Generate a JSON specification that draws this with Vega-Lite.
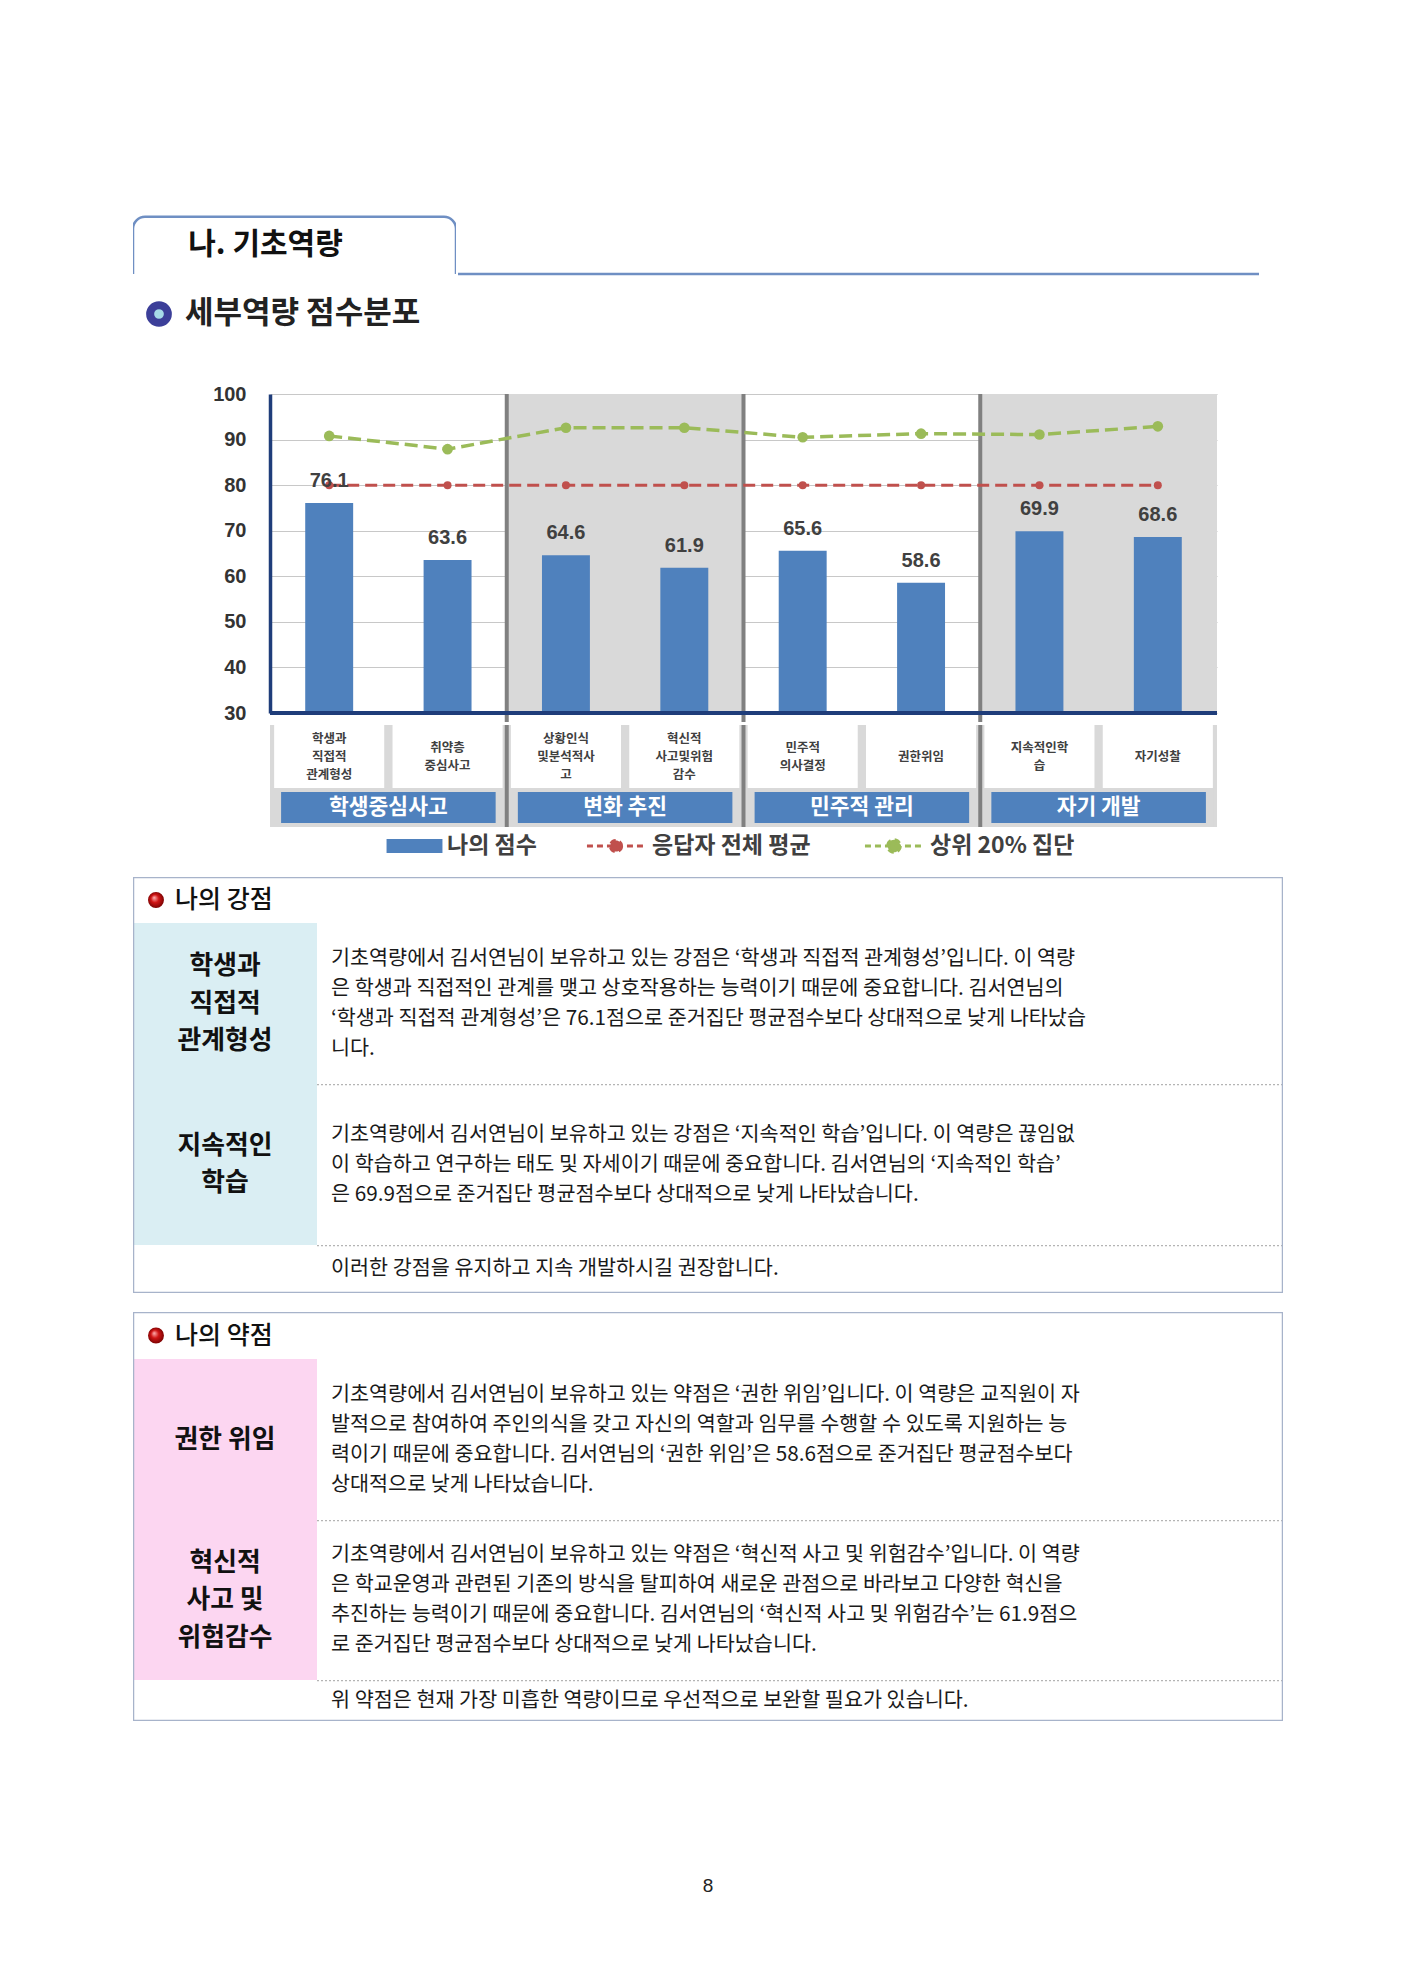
{
  "$schema": "https://vega.github.io/schema/vega-lite/v6.json",
  "background": "white",
  "padding": {"left": 133, "top": 215, "right": 0, "bottom": 0},
  "config": {
    "font": "Noto Sans CJK KR",
    "view": {"stroke": null},
    "axis": {"labelFont": "Liberation Sans"}
  },
  "datasets": {
    "scores": [
      {"group": "학생중심사고", "cat": "학생과 직접적 관계형성", "label": "학생과\n직접적\n관계형성", "score": 76.1, "avg": 80, "top20": 90.8},
      {"group": "학생중심사고", "cat": "취약층 중심사고", "label": "취약층\n중심사고", "score": 63.6, "avg": 80, "top20": 87.9},
      {"group": "변화 추진", "cat": "상황인식 및 분석적 사고", "label": "상황인식\n및분석적사\n고", "score": 64.6, "avg": 80, "top20": 92.6},
      {"group": "변화 추진", "cat": "혁신적 사고 및 위험감수", "label": "혁신적\n사고및위험\n감수", "score": 61.9, "avg": 80, "top20": 92.6},
      {"group": "민주적 관리", "cat": "민주적 의사결정", "label": "민주적\n의사결정", "score": 65.6, "avg": 80, "top20": 90.5},
      {"group": "민주적 관리", "cat": "권한 위임", "label": "권한위임", "score": 58.6, "avg": 80, "top20": 91.3},
      {"group": "자기 개발", "cat": "지속적인 학습", "label": "지속적인학\n습", "score": 69.9, "avg": 80, "top20": 91.1},
      {"group": "자기 개발", "cat": "자기성찰", "label": "자기성찰", "score": 68.6, "avg": 80, "top20": 92.9}
    ],
    "groups": [
      {"group": "학생중심사고"},
      {"group": "변화 추진"},
      {"group": "민주적 관리"},
      {"group": "자기 개발"}
    ]
  },
  "spacing": 0,
  "vconcat": [
    {
      "spacing": 0,
      "hconcat": [
        {
          "width": 323,
          "height": 59,
          "data": {"values": [{"section": "나. 기초역량"}]},
          "layer": [
            {
              "mark": {"type": "rect", "fill": "white", "stroke": "#6f8fc3", "strokeWidth": 2.5, "cornerRadiusTopLeft": 12, "cornerRadiusTopRight": 12, "clip": true},
              "encoding": {
                "y": {"datum": 0.97, "type": "quantitative", "scale": {"domain": [0, 1]}, "axis": null},
                "y2": {"datum": -0.3}
              }
            },
            {
              "mark": {"type": "text", "fontSize": 30, "fontWeight": "bold", "color": "#111111"},
              "encoding": {
                "x": {"field": "section", "type": "nominal", "scale": {"type": "band", "paddingInner": 0, "paddingOuter": 0.1094, "align": 0}, "axis": null},
                "text": {"field": "section"}
              }
            }
          ]
        },
        {
          "width": 801,
          "height": 59,
          "data": {"values": [{"section": "나. 기초역량"}]},
          "mark": {"type": "rule", "color": "#6f8fc3", "strokeWidth": 2.5},
          "encoding": {
            "y": {"datum": 0, "type": "quantitative", "scale": {"domain": [0, 1]}, "axis": null}
          }
        }
      ]
    },
    {
      "spacing": 0,
      "hconcat": [
        {
          "width": 52,
          "height": 76,
          "data": {"values": [{"name": "세부역량 점수분포"}]},
          "mark": {"type": "point", "shape": "circle", "filled": true, "size": 314, "fill": "#a6dbe8", "stroke": "#3c3f99", "strokeWidth": 8, "opacity": 1}
        },
        {
          "width": 320,
          "height": 76,
          "data": {"values": [{"name": "세부역량 점수분포"}]},
          "mark": {"type": "text", "align": "left", "fontSize": 31, "fontWeight": "bold", "color": "#222222"},
          "encoding": {
            "x": {"field": "name", "type": "nominal", "bandPosition": 0, "scale": {"type": "band", "paddingInner": 0, "paddingOuter": 0}, "axis": null},
            "text": {"field": "name"}
          }
        }
      ]
    },
    {"width": 1, "height": 32, "data": {"values": []}, "mark": "point"},
    {
      "spacing": 0,
      "hconcat": [
        {"width": 67, "height": 1, "data": {"values": []}, "mark": "point"},
        {
          "width": 947,
          "height": 319,
          "resolve": {"scale": {"x": "independent"}},
          "layer": [
            {
              "data": {"name": "groups"},
              "transform": [{"filter": {"field": "group", "oneOf": ["변화 추진", "자기 개발"]}}],
              "mark": {"type": "rect", "color": "#d9d9d9"},
              "encoding": {
                "x": {"field": "group", "type": "nominal", "scale": {"domain": ["학생중심사고", "변화 추진", "민주적 관리", "자기 개발"], "paddingInner": 0, "paddingOuter": 0}, "axis": null}
              }
            },
            {
              "data": {"name": "groups"},
              "transform": [{"filter": {"field": "group", "oneOf": ["변화 추진", "민주적 관리", "자기 개발"]}}],
              "mark": {"type": "rule", "color": "#808080", "strokeWidth": 4},
              "encoding": {
                "x": {"field": "group", "type": "nominal", "bandPosition": 0, "scale": {"type": "band", "domain": ["학생중심사고", "변화 추진", "민주적 관리", "자기 개발"], "paddingInner": 0, "paddingOuter": 0}, "axis": null},
                "y": {"datum": 100, "type": "quantitative"},
                "y2": {"datum": 28}
              }
            },
            {
              "data": {"name": "scores"},
              "encoding": {
                "x": {"field": "cat", "type": "nominal", "sort": null, "scale": {"type": "band", "paddingInner": 0.595, "paddingOuter": 0.2975}, "axis": null}
              },
              "layer": [
                {
                  "mark": {"type": "bar", "color": "#4f81bd"},
                  "encoding": {
                    "y": {
                      "field": "score", "type": "quantitative",
                      "scale": {"domain": [30, 100], "nice": false, "zero": false},
                      "axis": {"values": [30, 40, 50, 60, 70, 80, 90, 100], "title": null, "ticks": false, "grid": true, "gridColor": "#c8c8c8", "gridWidth": 1, "domainColor": "#1f3d7a", "domainWidth": 3.5, "labelFontSize": 20, "labelFontWeight": "bold", "labelColor": "#333333", "labelPadding": 24, "minExtent": 70}
                    },
                    "y2": {"datum": 30}
                  }
                },
                {
                  "mark": {"type": "rule", "color": "#1f3d7a", "strokeWidth": 3.5},
                  "encoding": {"x": null, "y": {"datum": 30, "type": "quantitative"}}
                },
                {
                  "mark": {"type": "line", "color": "#c0504d", "strokeDash": [12, 6], "strokeWidth": 3},
                  "encoding": {"y": {"field": "avg", "type": "quantitative"}}
                },
                {
                  "mark": {"type": "point", "color": "#c0504d", "filled": true, "size": 64, "opacity": 1},
                  "encoding": {"y": {"field": "avg", "type": "quantitative"}}
                },
                {
                  "mark": {"type": "line", "color": "#9bbb59", "strokeDash": [13, 6], "strokeWidth": 3.5},
                  "encoding": {"y": {"field": "top20", "type": "quantitative"}}
                },
                {
                  "mark": {"type": "point", "color": "#9bbb59", "filled": true, "size": 113, "opacity": 1},
                  "encoding": {"y": {"field": "top20", "type": "quantitative"}}
                },
                {
                  "mark": {"type": "text", "baseline": "bottom", "dy": -12, "font": "Liberation Sans", "fontSize": 20, "fontWeight": "bold", "color": "#404040"},
                  "encoding": {
                    "y": {"field": "score", "type": "quantitative"},
                    "text": {"field": "score", "type": "quantitative", "format": ".1f"}
                  }
                }
              ]
            }
          ]
        }
      ]
    },
    {
      "spacing": 0,
      "hconcat": [
        {"width": 137, "height": 63, "data": {"values": []}, "mark": "point"},
        {
          "width": 947,
          "height": 63,
          "resolve": {"scale": {"x": "independent"}},
          "layer": [
            {
              "data": {"name": "groups"},
              "mark": {"type": "rect", "color": "#d9d9d9"},
              "encoding": {
                "x": {"field": "group", "type": "nominal", "sort": null, "scale": {"paddingInner": 0, "paddingOuter": 0}, "axis": null}
              }
            },
            {
              "data": {"name": "scores"},
              "encoding": {
                "x": {"field": "cat", "type": "nominal", "sort": null, "scale": {"type": "band", "paddingInner": 0.07, "paddingOuter": 0.035}, "axis": null}
              },
              "layer": [
                {"mark": {"type": "rect", "color": "white"}},
                {
                  "mark": {"type": "text", "fontSize": 12.5, "fontWeight": "bold", "color": "#404040", "lineBreak": "\n", "lineHeight": 18, "dy": {"expr": "-9 * (length(split(datum.label, '\\n')) - 1)"}},
                  "encoding": {"text": {"field": "label"}}
                }
              ]
            },
            {
              "data": {"name": "groups"},
              "transform": [{"filter": {"field": "group", "oneOf": ["변화 추진", "민주적 관리", "자기 개발"]}}],
              "mark": {"type": "rule", "color": "#808080", "strokeWidth": 4, "clip": true},
              "encoding": {
                "x": {"field": "group", "type": "nominal", "bandPosition": 0, "scale": {"type": "band", "domain": ["학생중심사고", "변화 추진", "민주적 관리", "자기 개발"], "paddingInner": 0, "paddingOuter": 0}, "axis": null}
              }
            }
          ]
        }
      ]
    },
    {
      "spacing": 0,
      "hconcat": [
        {"width": 137, "height": 39, "data": {"values": []}, "mark": "point"},
        {
          "width": 947,
          "height": 39,
          "data": {"name": "groups"},
          "resolve": {"scale": {"x": "independent"}},
          "layer": [
            {
              "mark": {"type": "rect", "color": "#d9d9d9"},
              "encoding": {
                "x": {"field": "group", "type": "nominal", "sort": null, "scale": {"paddingInner": 0, "paddingOuter": 0}, "axis": null}
              }
            },
            {
              "encoding": {
                "x": {"field": "group", "type": "nominal", "sort": null, "scale": {"type": "band", "paddingInner": 0.06, "paddingOuter": 0.03}, "axis": null}
              },
              "layer": [
                {"mark": {"type": "rect", "color": "#4f81bd", "stroke": "#d9d9d9", "strokeWidth": 8, "clip": true}},
                {
                  "mark": {"type": "text", "fontSize": 21.5, "fontWeight": "bold", "color": "white"},
                  "encoding": {"text": {"field": "group"}}
                }
              ]
            },
            {
              "transform": [{"filter": {"field": "group", "oneOf": ["변화 추진", "민주적 관리", "자기 개발"]}}],
              "mark": {"type": "rule", "color": "#808080", "strokeWidth": 4, "clip": true},
              "encoding": {
                "x": {"field": "group", "type": "nominal", "bandPosition": 0, "scale": {"type": "band", "domain": ["학생중심사고", "변화 추진", "민주적 관리", "자기 개발"], "paddingInner": 0, "paddingOuter": 0}, "axis": null}
              }
            }
          ]
        }
      ]
    },
    {
      "spacing": 0,
      "hconcat": [
        {"width": 249, "height": 38, "data": {"values": []}, "mark": "point"},
        {
          "width": 65,
          "height": 38,
          "data": {"values": [{"series": "나의 점수"}]},
          "mark": {"type": "point", "shape": "M-0.86,-0.215H0.86V0.215H-0.86Z", "size": 4225, "filled": true, "color": "#4f81bd", "strokeWidth": 0, "opacity": 1}
        },
        {
          "width": 133,
          "height": 38,
          "data": {"values": [{"series": "나의 점수"}]},
          "mark": {"type": "text", "align": "left", "fontSize": 23, "fontWeight": "bold", "color": "#404040"},
          "encoding": {
            "x": {"field": "series", "type": "nominal", "bandPosition": 0, "scale": {"type": "band", "paddingInner": 0, "paddingOuter": 0}, "axis": null},
            "text": {"field": "series"}
          }
        },
        {
          "width": 66,
          "height": 38,
          "data": {"values": [{"series": "응답자 전체 평균"}]},
          "mark": {"type": "point", "shape": "M-0.88,0H0.88M0.17,0A0.17,0.17,0,1,1,-0.17,0A0.17,0.17,0,1,1,0.17,0Z", "size": 4356, "filled": true, "fill": "#c0504d", "stroke": "#c0504d", "strokeWidth": 3, "strokeDash": [6, 4], "opacity": 1}
        },
        {
          "width": 206,
          "height": 38,
          "data": {"values": [{"series": "응답자 전체 평균"}]},
          "mark": {"type": "text", "align": "left", "fontSize": 23, "fontWeight": "bold", "color": "#404040"},
          "encoding": {
            "x": {"field": "series", "type": "nominal", "bandPosition": 0, "scale": {"type": "band", "paddingInner": 0, "paddingOuter": 0}, "axis": null},
            "text": {"field": "series"}
          }
        },
        {
          "width": 66,
          "height": 38,
          "data": {"values": [{"series": "상위 20% 집단"}]},
          "mark": {"type": "point", "shape": "M-0.88,0H0.88M0.19,0A0.19,0.19,0,1,1,-0.19,0A0.19,0.19,0,1,1,0.19,0Z", "size": 4356, "filled": true, "fill": "#9bbb59", "stroke": "#9bbb59", "strokeWidth": 3, "strokeDash": [6, 4], "opacity": 1}
        },
        {
          "width": 190,
          "height": 38,
          "data": {"values": [{"series": "상위 20% 집단"}]},
          "mark": {"type": "text", "align": "left", "fontSize": 23, "fontWeight": "bold", "color": "#404040"},
          "encoding": {
            "x": {"field": "series", "type": "nominal", "bandPosition": 0, "scale": {"type": "band", "paddingInner": 0, "paddingOuter": 0}, "axis": null},
            "text": {"field": "series"}
          }
        }
      ]
    },
    {"width": 1, "height": 12, "data": {"values": []}, "mark": "point"},
    {
      "spacing": 0,
      "vconcat": [
        {
          "width": 1150,
          "height": 46,
          "data": {"values": [{"title": "나의 강점"}]},
          "resolve": {"scale": {"x": "independent"}},
          "layer": [
            {
              "mark": {"type": "point", "shape": "circle", "filled": true, "size": 254, "opacity": 1, "color": {"gradient": "radial", "x1": 0.38, "y1": 0.35, "r1": 0, "x2": 0.5, "y2": 0.5, "r2": 0.55, "stops": [{"offset": 0, "color": "#ffb3b3"}, {"offset": 0.45, "color": "#d01515"}, {"offset": 1, "color": "#700000"}]}},
              "encoding": {
                "x": {"field": "title", "type": "nominal", "scale": {"type": "band", "paddingInner": 0.9167, "paddingOuter": 1, "align": 0}, "axis": null}
              }
            },
            {
              "mark": {"type": "text", "align": "left", "fontSize": 25, "fontWeight": 500, "color": "#111111"},
              "encoding": {
                "x": {"field": "title", "type": "nominal", "bandPosition": 0, "scale": {"type": "band", "paddingInner": 0, "paddingOuter": 0.0394}, "axis": null},
                "text": {"field": "title"}
              }
            },
            {"mark": {"type": "rule", "color": "#a7b3ca", "strokeWidth": 2.5, "clip": true}, "encoding": {"y": {"datum": 1, "type": "quantitative", "scale": {"domain": [0, 1]}, "axis": null}}},
            {"mark": {"type": "rule", "color": "#a7b3ca", "strokeWidth": 2.5, "clip": true}, "encoding": {"x": {"datum": 0, "type": "quantitative", "scale": {"domain": [0, 1]}, "axis": null}}},
            {"mark": {"type": "rule", "color": "#a7b3ca", "strokeWidth": 2.5, "clip": true}, "encoding": {"x": {"datum": 1, "type": "quantitative", "scale": {"domain": [0, 1]}, "axis": null}}}
          ]
        },
        {
          "width": 1150,
          "height": 161,
          "data": {"values": [{"label": "학생과\n직접적\n관계형성", "text": "기초역량에서 김서연님이 보유하고 있는 강점은 ‘학생과 직접적 관계형성’입니다. 이 역량\n은 학생과 직접적인 관계를 맺고 상호작용하는 능력이기 때문에 중요합니다. 김서연님의\n‘학생과 직접적 관계형성’은 76.1점으로 준거집단 평균점수보다 상대적으로 낮게 나타났습\n니다."}]},
          "resolve": {"scale": {"x": "independent"}},
          "layer": [
            {
              "mark": {"type": "rect", "color": "#daeef3"},
              "encoding": {"x": {"field": "label", "type": "nominal", "scale": {"type": "band", "paddingInner": 0.619, "paddingOuter": 1, "align": 0}, "axis": null}}
            },
            {
              "mark": {"type": "text", "fontSize": 25.8, "fontWeight": "bold", "color": "#111111", "lineBreak": "\n", "lineHeight": 37.5, "dy": {"expr": "-18.75 * (length(split(datum.label, '\\n')) - 1)"}},
              "encoding": {
                "x": {"field": "label", "type": "nominal", "scale": {"type": "band", "paddingInner": 0.619, "paddingOuter": 1, "align": 0}, "axis": null},
                "text": {"field": "label"}
              }
            },
            {
              "mark": {"type": "text", "align": "left", "fontSize": 20.7, "color": "#1a1a1a", "lineBreak": "\n", "lineHeight": 30, "dy": {"expr": "-15 * (length(split(datum.text, '\\n')) - 1)"}},
              "encoding": {
                "x": {"field": "text", "type": "nominal", "bandPosition": 0, "scale": {"type": "band", "paddingInner": 0, "paddingOuter": 0.104, "align": 1}, "axis": null},
                "text": {"field": "text"}
              }
            },
            {"mark": {"type": "rule", "color": "#a7b3ca", "strokeWidth": 2.5, "clip": true}, "encoding": {"x": {"datum": 0, "type": "quantitative", "scale": {"domain": [0, 1]}, "axis": null}}},
            {"mark": {"type": "rule", "color": "#a7b3ca", "strokeWidth": 2.5, "clip": true}, "encoding": {"x": {"datum": 1, "type": "quantitative", "scale": {"domain": [0, 1]}, "axis": null}}}
          ]
        },
        {
          "width": 1150,
          "height": 161,
          "data": {"values": [{"label": "지속적인\n학습", "text": "기초역량에서 김서연님이 보유하고 있는 강점은 ‘지속적인 학습’입니다. 이 역량은 끊임없\n이 학습하고 연구하는 태도 및 자세이기 때문에 중요합니다.  김서연님의 ‘지속적인 학습’\n은 69.9점으로 준거집단 평균점수보다 상대적으로 낮게 나타났습니다."}]},
          "resolve": {"scale": {"x": "independent"}},
          "layer": [
            {
              "mark": {"type": "rect", "color": "#daeef3"},
              "encoding": {"x": {"field": "label", "type": "nominal", "scale": {"type": "band", "paddingInner": 0.619, "paddingOuter": 1, "align": 0}, "axis": null}}
            },
            {
              "mark": {"type": "text", "fontSize": 25.8, "fontWeight": "bold", "color": "#111111", "lineBreak": "\n", "lineHeight": 37.5, "dy": {"expr": "-18.75 * (length(split(datum.label, '\\n')) - 1)"}},
              "encoding": {
                "x": {"field": "label", "type": "nominal", "scale": {"type": "band", "paddingInner": 0.619, "paddingOuter": 1, "align": 0}, "axis": null},
                "text": {"field": "label"}
              }
            },
            {
              "mark": {"type": "text", "align": "left", "fontSize": 20.7, "color": "#1a1a1a", "lineBreak": "\n", "lineHeight": 30, "dy": {"expr": "-15 * (length(split(datum.text, '\\n')) - 1)"}},
              "encoding": {
                "x": {"field": "text", "type": "nominal", "bandPosition": 0, "scale": {"type": "band", "paddingInner": 0, "paddingOuter": 0.104, "align": 1}, "axis": null},
                "text": {"field": "text"}
              }
            },
            {
              "mark": {"type": "rule", "color": "#b4b4b4", "strokeWidth": 2.5, "strokeDash": [2, 2], "clip": true},
              "encoding": {
                "x": {"datum": 0.16, "type": "quantitative", "scale": {"domain": [0, 1]}, "axis": null},
                "x2": {"datum": 1},
                "y": {"datum": 1, "type": "quantitative", "scale": {"domain": [0, 1]}, "axis": null}
              }
            },
            {"mark": {"type": "rule", "color": "#a7b3ca", "strokeWidth": 2.5, "clip": true}, "encoding": {"x": {"datum": 0, "type": "quantitative", "scale": {"domain": [0, 1]}, "axis": null}}},
            {"mark": {"type": "rule", "color": "#a7b3ca", "strokeWidth": 2.5, "clip": true}, "encoding": {"x": {"datum": 1, "type": "quantitative", "scale": {"domain": [0, 1]}, "axis": null}}}
          ]
        },
        {
          "width": 1150,
          "height": 48,
          "data": {"values": [{"text": "이러한 강점을 유지하고 지속 개발하시길 권장합니다."}]},
          "resolve": {"scale": {"x": "independent"}},
          "layer": [
            {
              "mark": {"type": "text", "align": "left", "fontSize": 20.7, "color": "#1a1a1a"},
              "encoding": {
                "x": {"field": "text", "type": "nominal", "bandPosition": 0, "scale": {"type": "band", "paddingInner": 0, "paddingOuter": 0.104, "align": 1}, "axis": null},
                "text": {"field": "text"}
              }
            },
            {
              "mark": {"type": "rule", "color": "#b4b4b4", "strokeWidth": 2.5, "strokeDash": [2, 2], "clip": true},
              "encoding": {
                "x": {"datum": 0.16, "type": "quantitative", "scale": {"domain": [0, 1]}, "axis": null},
                "x2": {"datum": 1},
                "y": {"datum": 1, "type": "quantitative", "scale": {"domain": [0, 1]}, "axis": null}
              }
            },
            {"mark": {"type": "rule", "color": "#a7b3ca", "strokeWidth": 2.5, "clip": true}, "encoding": {"y": {"datum": 0, "type": "quantitative", "scale": {"domain": [0, 1]}, "axis": null}}},
            {"mark": {"type": "rule", "color": "#a7b3ca", "strokeWidth": 2.5, "clip": true}, "encoding": {"x": {"datum": 0, "type": "quantitative", "scale": {"domain": [0, 1]}, "axis": null}}},
            {"mark": {"type": "rule", "color": "#a7b3ca", "strokeWidth": 2.5, "clip": true}, "encoding": {"x": {"datum": 1, "type": "quantitative", "scale": {"domain": [0, 1]}, "axis": null}}}
          ]
        }
      ]
    },
    {"width": 1, "height": 19, "data": {"values": []}, "mark": "point"},
    {
      "spacing": 0,
      "vconcat": [
        {
          "width": 1150,
          "height": 47,
          "data": {"values": [{"title": "나의 약점"}]},
          "resolve": {"scale": {"x": "independent"}},
          "layer": [
            {
              "mark": {"type": "point", "shape": "circle", "filled": true, "size": 254, "opacity": 1, "color": {"gradient": "radial", "x1": 0.38, "y1": 0.35, "r1": 0, "x2": 0.5, "y2": 0.5, "r2": 0.55, "stops": [{"offset": 0, "color": "#ffb3b3"}, {"offset": 0.45, "color": "#d01515"}, {"offset": 1, "color": "#700000"}]}},
              "encoding": {
                "x": {"field": "title", "type": "nominal", "scale": {"type": "band", "paddingInner": 0.9167, "paddingOuter": 1, "align": 0}, "axis": null}
              }
            },
            {
              "mark": {"type": "text", "align": "left", "fontSize": 25, "fontWeight": 500, "color": "#111111"},
              "encoding": {
                "x": {"field": "title", "type": "nominal", "bandPosition": 0, "scale": {"type": "band", "paddingInner": 0, "paddingOuter": 0.0394}, "axis": null},
                "text": {"field": "title"}
              }
            },
            {"mark": {"type": "rule", "color": "#a7b3ca", "strokeWidth": 2.5, "clip": true}, "encoding": {"y": {"datum": 1, "type": "quantitative", "scale": {"domain": [0, 1]}, "axis": null}}},
            {"mark": {"type": "rule", "color": "#a7b3ca", "strokeWidth": 2.5, "clip": true}, "encoding": {"x": {"datum": 0, "type": "quantitative", "scale": {"domain": [0, 1]}, "axis": null}}},
            {"mark": {"type": "rule", "color": "#a7b3ca", "strokeWidth": 2.5, "clip": true}, "encoding": {"x": {"datum": 1, "type": "quantitative", "scale": {"domain": [0, 1]}, "axis": null}}}
          ]
        },
        {
          "width": 1150,
          "height": 161,
          "data": {"values": [{"label": "권한 위임", "text": "기초역량에서 김서연님이 보유하고 있는 약점은 ‘권한 위임’입니다. 이 역량은 교직원이 자\n발적으로 참여하여 주인의식을 갖고 자신의 역할과 임무를 수행할 수 있도록 지원하는 능\n력이기 때문에 중요합니다. 김서연님의 ‘권한 위임’은 58.6점으로 준거집단 평균점수보다\n상대적으로 낮게 나타났습니다."}]},
          "resolve": {"scale": {"x": "independent"}},
          "layer": [
            {
              "mark": {"type": "rect", "color": "#fcd6f1"},
              "encoding": {"x": {"field": "label", "type": "nominal", "scale": {"type": "band", "paddingInner": 0.619, "paddingOuter": 1, "align": 0}, "axis": null}}
            },
            {
              "mark": {"type": "text", "fontSize": 25.8, "fontWeight": "bold", "color": "#111111", "lineBreak": "\n", "lineHeight": 37.5, "dy": {"expr": "-18.75 * (length(split(datum.label, '\\n')) - 1)"}},
              "encoding": {
                "x": {"field": "label", "type": "nominal", "scale": {"type": "band", "paddingInner": 0.619, "paddingOuter": 1, "align": 0}, "axis": null},
                "text": {"field": "label"}
              }
            },
            {
              "mark": {"type": "text", "align": "left", "fontSize": 20.7, "color": "#1a1a1a", "lineBreak": "\n", "lineHeight": 30, "dy": {"expr": "-15 * (length(split(datum.text, '\\n')) - 1)"}},
              "encoding": {
                "x": {"field": "text", "type": "nominal", "bandPosition": 0, "scale": {"type": "band", "paddingInner": 0, "paddingOuter": 0.104, "align": 1}, "axis": null},
                "text": {"field": "text"}
              }
            },
            {"mark": {"type": "rule", "color": "#a7b3ca", "strokeWidth": 2.5, "clip": true}, "encoding": {"x": {"datum": 0, "type": "quantitative", "scale": {"domain": [0, 1]}, "axis": null}}},
            {"mark": {"type": "rule", "color": "#a7b3ca", "strokeWidth": 2.5, "clip": true}, "encoding": {"x": {"datum": 1, "type": "quantitative", "scale": {"domain": [0, 1]}, "axis": null}}}
          ]
        },
        {
          "width": 1150,
          "height": 160,
          "data": {"values": [{"label": "혁신적\n사고 및\n위험감수", "text": "기초역량에서 김서연님이 보유하고 있는 약점은 ‘혁신적 사고 및 위험감수’입니다. 이 역량\n은 학교운영과 관련된 기존의 방식을 탈피하여 새로운 관점으로 바라보고 다양한 혁신을\n추진하는 능력이기 때문에 중요합니다. 김서연님의 ‘혁신적 사고 및 위험감수’는 61.9점으\n로 준거집단 평균점수보다 상대적으로 낮게 나타났습니다."}]},
          "resolve": {"scale": {"x": "independent"}},
          "layer": [
            {
              "mark": {"type": "rect", "color": "#fcd6f1"},
              "encoding": {"x": {"field": "label", "type": "nominal", "scale": {"type": "band", "paddingInner": 0.619, "paddingOuter": 1, "align": 0}, "axis": null}}
            },
            {
              "mark": {"type": "text", "fontSize": 25.8, "fontWeight": "bold", "color": "#111111", "lineBreak": "\n", "lineHeight": 37.5, "dy": {"expr": "-18.75 * (length(split(datum.label, '\\n')) - 1)"}},
              "encoding": {
                "x": {"field": "label", "type": "nominal", "scale": {"type": "band", "paddingInner": 0.619, "paddingOuter": 1, "align": 0}, "axis": null},
                "text": {"field": "label"}
              }
            },
            {
              "mark": {"type": "text", "align": "left", "fontSize": 20.7, "color": "#1a1a1a", "lineBreak": "\n", "lineHeight": 30, "dy": {"expr": "-15 * (length(split(datum.text, '\\n')) - 1)"}},
              "encoding": {
                "x": {"field": "text", "type": "nominal", "bandPosition": 0, "scale": {"type": "band", "paddingInner": 0, "paddingOuter": 0.104, "align": 1}, "axis": null},
                "text": {"field": "text"}
              }
            },
            {
              "mark": {"type": "rule", "color": "#b4b4b4", "strokeWidth": 2.5, "strokeDash": [2, 2], "clip": true},
              "encoding": {
                "x": {"datum": 0.16, "type": "quantitative", "scale": {"domain": [0, 1]}, "axis": null},
                "x2": {"datum": 1},
                "y": {"datum": 1, "type": "quantitative", "scale": {"domain": [0, 1]}, "axis": null}
              }
            },
            {"mark": {"type": "rule", "color": "#a7b3ca", "strokeWidth": 2.5, "clip": true}, "encoding": {"x": {"datum": 0, "type": "quantitative", "scale": {"domain": [0, 1]}, "axis": null}}},
            {"mark": {"type": "rule", "color": "#a7b3ca", "strokeWidth": 2.5, "clip": true}, "encoding": {"x": {"datum": 1, "type": "quantitative", "scale": {"domain": [0, 1]}, "axis": null}}}
          ]
        },
        {
          "width": 1150,
          "height": 41,
          "data": {"values": [{"text": "위 약점은 현재 가장 미흡한 역량이므로 우선적으로 보완할 필요가 있습니다."}]},
          "resolve": {"scale": {"x": "independent"}},
          "layer": [
            {
              "mark": {"type": "text", "align": "left", "fontSize": 20.7, "color": "#1a1a1a"},
              "encoding": {
                "x": {"field": "text", "type": "nominal", "bandPosition": 0, "scale": {"type": "band", "paddingInner": 0, "paddingOuter": 0.104, "align": 1}, "axis": null},
                "text": {"field": "text"}
              }
            },
            {
              "mark": {"type": "rule", "color": "#b4b4b4", "strokeWidth": 2.5, "strokeDash": [2, 2], "clip": true},
              "encoding": {
                "x": {"datum": 0.16, "type": "quantitative", "scale": {"domain": [0, 1]}, "axis": null},
                "x2": {"datum": 1},
                "y": {"datum": 1, "type": "quantitative", "scale": {"domain": [0, 1]}, "axis": null}
              }
            },
            {"mark": {"type": "rule", "color": "#a7b3ca", "strokeWidth": 2.5, "clip": true}, "encoding": {"y": {"datum": 0, "type": "quantitative", "scale": {"domain": [0, 1]}, "axis": null}}},
            {"mark": {"type": "rule", "color": "#a7b3ca", "strokeWidth": 2.5, "clip": true}, "encoding": {"x": {"datum": 0, "type": "quantitative", "scale": {"domain": [0, 1]}, "axis": null}}},
            {"mark": {"type": "rule", "color": "#a7b3ca", "strokeWidth": 2.5, "clip": true}, "encoding": {"x": {"datum": 1, "type": "quantitative", "scale": {"domain": [0, 1]}, "axis": null}}}
          ]
        }
      ]
    },
    {"width": 1, "height": 150, "data": {"values": []}, "mark": "point"},
    {
      "width": 1150,
      "height": 30,
      "data": {"values": [{"page": "8"}]},
      "mark": {"type": "text", "fontSize": 19, "color": "#222222", "font": "Liberation Sans"},
      "encoding": {"text": {"field": "page"}}
    }
  ]
}
